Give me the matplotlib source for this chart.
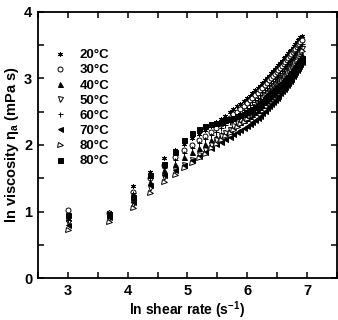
import matplotlib
matplotlib.use("Agg")
import matplotlib.pyplot as plt
import numpy as np
from matplotlib.ticker import MultipleLocator

plt.rcParams['font.family'] = ['Liberation Sans', 'DejaVu Sans']
plt.rcParams['font.weight'] = 'bold'
plt.rcParams['mathtext.default'] = 'regular'

# shear rates (s^-1), plotted as ln
shear_rate = [20, 40, 60, 80, 100, 120, 140, 160, 180, 200,
              220, 240, 260, 280, 300, 320, 340, 360, 380, 400,
              420, 440, 460, 480, 500, 520, 540, 560, 580, 600,
              620, 640, 660, 680, 700, 720, 740, 760, 780, 800,
              820, 840, 860, 880, 900, 920, 940, 960, 980, 1000]

labels = ["20°C", "30°C", "40°C", "50°C", "60°C", "70°C", "80°C", "80°C"]

visc_20 = [0.95, 1.00, 1.38, 1.60, 1.80, 1.92, 2.02, 2.10, 2.16, 2.22,
           2.28, 2.34, 2.39, 2.44, 2.49, 2.54, 2.58, 2.62, 2.66, 2.70,
           2.74, 2.78, 2.82, 2.86, 2.89, 2.93, 2.97, 3.01, 3.04, 3.08,
           3.11, 3.14, 3.17, 3.20, 3.23, 3.26, 3.30, 3.32, 3.35, 3.38,
           3.41, 3.43, 3.46, 3.49, 3.51, 3.54, 3.57, 3.59, 3.62, 3.64]
visc_30 = [1.02, 0.98, 1.30, 1.50, 1.70, 1.82, 1.92, 2.00, 2.07, 2.13,
           2.20, 2.26, 2.31, 2.36, 2.41, 2.46, 2.50, 2.54, 2.58, 2.63,
           2.67, 2.71, 2.75, 2.78, 2.82, 2.86, 2.90, 2.93, 2.97, 3.00,
           3.03, 3.06, 3.09, 3.12, 3.15, 3.18, 3.22, 3.25, 3.28, 3.31,
           3.34, 3.36, 3.39, 3.42, 3.44, 3.47, 3.50, 3.52, 3.55, 3.57]
visc_40 = [0.90, 0.95, 1.25, 1.45, 1.62, 1.72, 1.82, 1.90, 1.96, 2.02,
           2.07, 2.12, 2.16, 2.20, 2.24, 2.28, 2.31, 2.34, 2.37, 2.40,
           2.43, 2.47, 2.50, 2.53, 2.57, 2.60, 2.64, 2.67, 2.71, 2.74,
           2.77, 2.80, 2.83, 2.86, 2.89, 2.92, 2.96, 2.99, 3.02, 3.05,
           3.08, 3.11, 3.14, 3.17, 3.20, 3.23, 3.26, 3.29, 3.32, 3.35]
visc_50 = [0.85, 0.90, 1.12, 1.35, 1.52, 1.62, 1.70, 1.78, 1.85, 1.92,
           2.00, 2.07, 2.13, 2.18, 2.23, 2.28, 2.33, 2.37, 2.41, 2.45,
           2.49, 2.53, 2.57, 2.61, 2.65, 2.69, 2.73, 2.77, 2.80, 2.84,
           2.87, 2.90, 2.93, 2.96, 2.99, 3.03, 3.06, 3.09, 3.12, 3.15,
           3.18, 3.21, 3.24, 3.27, 3.30, 3.33, 3.37, 3.40, 3.43, 3.46]
visc_60 = [0.88, 0.97, 1.28, 1.50, 1.66, 1.78, 1.88, 1.96, 2.03, 2.09,
           2.15, 2.20, 2.25, 2.30, 2.35, 2.40, 2.44, 2.48, 2.52, 2.56,
           2.60, 2.64, 2.68, 2.71, 2.75, 2.79, 2.83, 2.86, 2.90, 2.93,
           2.96, 2.99, 3.02, 3.05, 3.08, 3.11, 3.15, 3.18, 3.21, 3.24,
           3.27, 3.29, 3.32, 3.35, 3.38, 3.41, 3.44, 3.46, 3.49, 3.52]
visc_70 = [0.80, 0.92, 1.15, 1.40, 1.55, 1.62, 1.70, 1.77, 1.83, 1.90,
           1.96, 2.01, 2.05, 2.09, 2.12, 2.16, 2.19, 2.22, 2.25, 2.28,
           2.31, 2.35, 2.38, 2.41, 2.44, 2.48, 2.51, 2.55, 2.58, 2.62,
           2.65, 2.68, 2.71, 2.74, 2.78, 2.81, 2.84, 2.87, 2.90, 2.93,
           2.96, 2.99, 3.03, 3.06, 3.09, 3.12, 3.16, 3.19, 3.22, 3.25]
visc_80a = [0.72, 0.85, 1.05, 1.28, 1.45, 1.55, 1.65, 1.73, 1.80, 1.87,
            1.95, 2.02, 2.08, 2.13, 2.18, 2.23, 2.27, 2.31, 2.35, 2.39,
            2.43, 2.47, 2.51, 2.55, 2.59, 2.63, 2.67, 2.71, 2.74, 2.78,
            2.81, 2.84, 2.87, 2.90, 2.93, 2.97, 3.00, 3.03, 3.06, 3.10,
            3.13, 3.16, 3.19, 3.22, 3.25, 3.28, 3.32, 3.35, 3.38, 3.41]
visc_80b = [0.95, 0.97, 1.22, 1.55, 1.72, 1.90, 2.08, 2.18, 2.24, 2.28,
            2.31, 2.33, 2.35, 2.37, 2.39, 2.41, 2.43, 2.45, 2.47, 2.49,
            2.51, 2.54, 2.57, 2.60, 2.63, 2.66, 2.69, 2.72, 2.75, 2.78,
            2.80, 2.82, 2.85, 2.87, 2.90, 2.92, 2.95, 2.97, 3.00, 3.02,
            3.05, 3.08, 3.10, 3.13, 3.16, 3.19, 3.22, 3.25, 3.28, 3.30]

series = [visc_20, visc_30, visc_40, visc_50, visc_60, visc_70, visc_80a, visc_80b]
markers = [(6, 2, 0), 'o', '^', 'v', '+', '<', '>', 's']
filled = [True, False, True, False, True, True, False, True]

x = np.log(shear_rate)

fig = plt.figure(figsize=(3.38, 3.2), dpi=100)
ax = fig.add_axes([0.112, 0.131, 0.885, 0.832])

for y, m, f, lab in zip(series, markers, filled, labels):
    ax.plot(x, y, linestyle='none', marker=m, markersize=3.6,
            markerfacecolor='black' if f else 'white',
            markeredgecolor='black', markeredgewidth=0.7,
            color='black', label=lab)

ax.set_xlim(2.5, 7.5)
ax.set_ylim(0, 4)
ax.xaxis.set_major_locator(MultipleLocator(1))
ax.xaxis.set_minor_locator(MultipleLocator(0.5))
ax.yaxis.set_major_locator(MultipleLocator(1))
ax.yaxis.set_minor_locator(MultipleLocator(0.5))
ax.tick_params(which='both', direction='in', top=True, right=True,
               length=4, width=1.1, labelsize=10.5, pad=4)
for s in ax.spines.values():
    s.set_linewidth(1.3)

ax.set_xlabel(r'ln shear rate (s$^{-1}$)', fontsize=10, fontweight='bold', labelpad=1)
ax.set_ylabel(r'ln viscosity $\eta_a$ (mPa s)', fontsize=10.5, fontweight='bold', labelpad=2)

ax.legend(loc='upper left', bbox_to_anchor=(0.03, 0.88), frameon=False,
          fontsize=9.5, handletextpad=0.9, labelspacing=0.22,
          handlelength=1.2, borderaxespad=0)

fig.savefig('out.png', dpi=100)
